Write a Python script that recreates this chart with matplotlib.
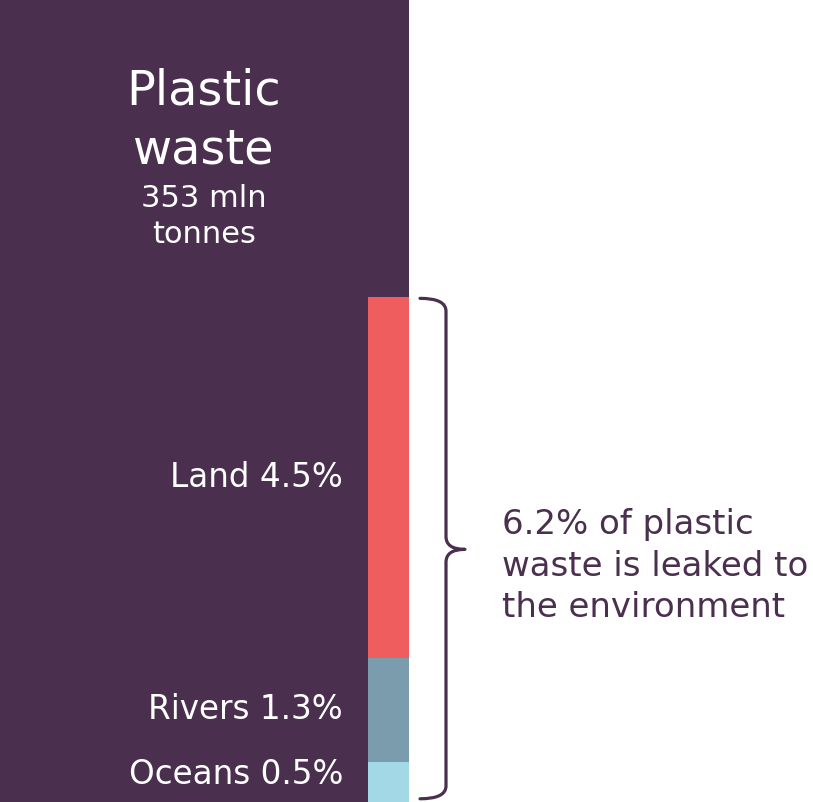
import matplotlib
matplotlib.use("Agg")
import matplotlib.pyplot as plt
from matplotlib.path import Path
from matplotlib.patches import PathPatch

# data
total_label = "353 mln\ntonnes"
categories = ["Oceans", "Rivers", "Land"]
shares = [0.5, 1.3, 4.5]  # % of plastic waste
leaked_total = 6.2
magnify = 10  # strip is drawn 10x taller than true scale

purple = "#4A2F4E"
colors = ["#A3D8E6", "#7A9CAC", "#F05D5E"]

plt.rcParams["font.family"] = ["DejaVu Sans"]

fig = plt.figure(figsize=(8.13, 8.02), dpi=100)
ax = fig.add_axes([0, 0, 1, 1])
ax.set_xlim(0, 813)
ax.set_ylim(0, 100)
ax.axis("off")

# whole waste bar
ax.bar(0, 100, width=409, align="edge", color=purple)

# leaked strip
strip_x, strip_w = 368, 41
bottom = 0
centers = []
for cat, s, c in zip(categories, shares, colors):
    h = s * magnify
    ax.bar(strip_x, h, width=strip_w, bottom=bottom, align="edge", color=c)
    centers.append(bottom + h / 2)
    bottom += h
top = bottom

for cat, s, yc in zip(categories, shares, centers):
    yc = max(yc, 3.4)
    ax.text(343, yc, "{} {}%".format(cat, s), color="white", fontsize=23.5,
            ha="right", va="center")

ax.text(204, 85.0, "Plastic\nwaste", color="white", fontsize=34.5,
        ha="center", va="center", linespacing=1.33)
ax.text(204, 73.0, total_label, color="white", fontsize=22,
        ha="center", va="center", linespacing=1.27)

# bracket
mid = top / 2
y0 = top - 0.2
y1 = 0.4
r = 1.6
verts = [
    (420, y0), (446, y0), (446, y0 - r),
    (446, mid + r),
    (446, mid), (465, mid),
    (446, mid), (446, mid - r),
    (446, y1 + r),
    (446, y1), (420, y1),
]
codes = [Path.MOVETO, Path.CURVE3, Path.CURVE3,
         Path.LINETO,
         Path.CURVE3, Path.CURVE3,
         Path.CURVE3, Path.CURVE3,
         Path.LINETO,
         Path.CURVE3, Path.CURVE3]
ax.add_patch(PathPatch(Path(verts, codes), fill=False, edgecolor=purple,
                       lw=2.3, capstyle="round", joinstyle="round"))

ax.text(502, 29.4,
        "{}% of plastic\nwaste is leaked to\nthe environment".format(leaked_total),
        color=purple, fontsize=24.5, ha="left", va="center", linespacing=1.32)

fig.savefig("out.png", dpi=100)
